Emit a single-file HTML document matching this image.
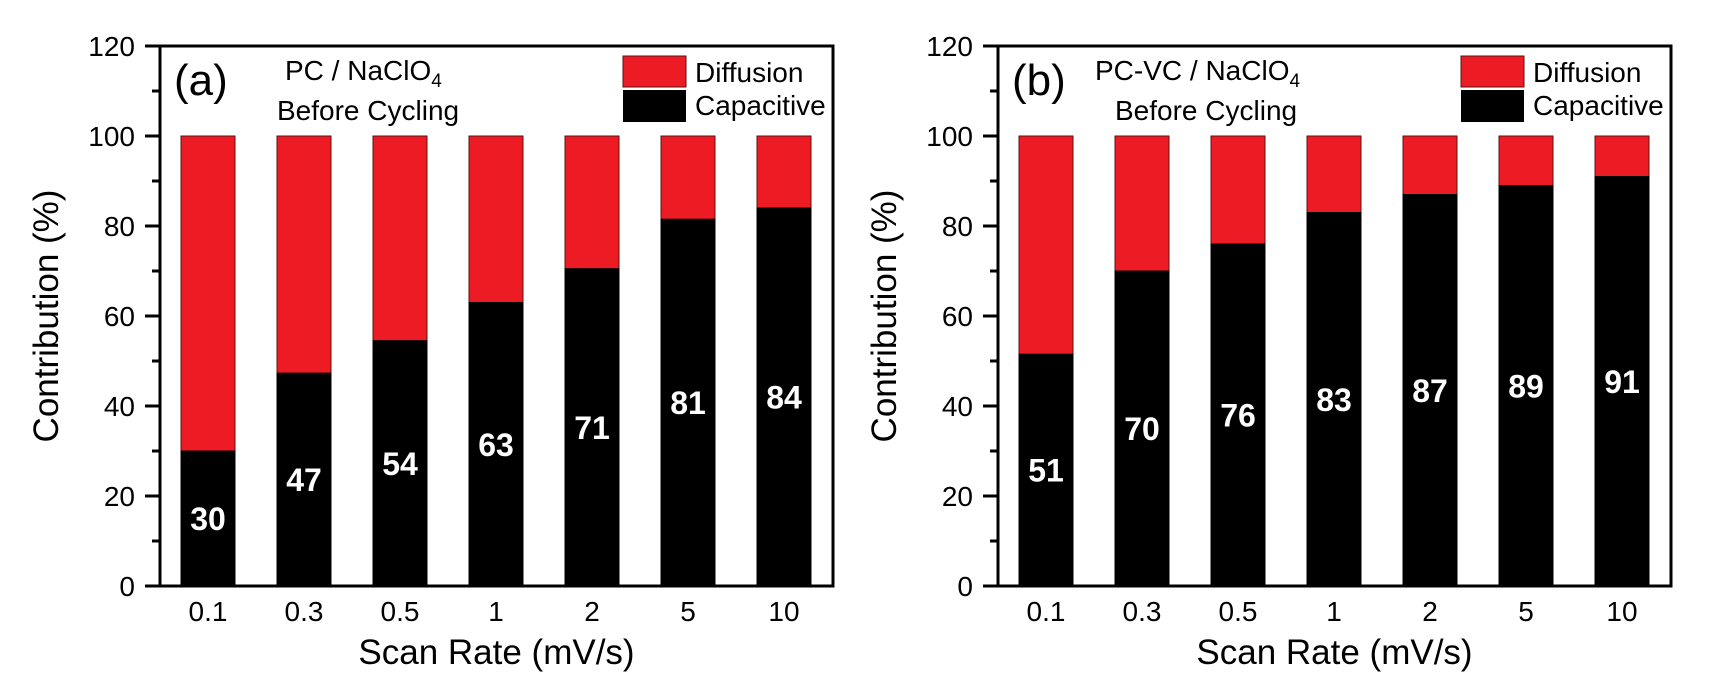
<!DOCTYPE html>
<html><head><meta charset="utf-8">
<style>
html,body{margin:0;padding:0;background:#fff;}
svg{display:block;font-family:"Liberation Sans",Arial,sans-serif;}
</style></head>
<body>
<svg id="fig" width="1713" height="689" viewBox="0 0 1713 689" xmlns="http://www.w3.org/2000/svg"></svg>
<script>
const categories = ["0.1","0.3","0.5","1","2","5","10"];
const capA = [30, 47.3, 54.5, 63, 70.5, 81.5, 84];
const labelsA = ["30","47","54","63","71","81","84"];
const capB = [51.5, 70, 76, 83, 87, 89, 91];
const labelsB = ["51","70","76","83","87","89","91"];
const yTicks = [0,20,40,60,80,100,120];
const yMinor = [10,30,50,70,90,110];

const NS = "http://www.w3.org/2000/svg";
const svg = document.getElementById("fig");
function mk(tag, attrs, parent, text){
  const e = document.createElementNS(NS, tag);
  for (const k in attrs) e.setAttribute(k, attrs[k]);
  if (text !== undefined) e.textContent = text;
  (parent||svg).appendChild(e);
  return e;
}

function drawPanel(offX, cap, labels, tag, line1, line1Shift, name){
  const x0 = 160 + offX, x1 = 833 + offX, yTop = 46, yBot = 586;
  const g = mk("g", {});
  
  
  const yS = v => yBot - (v/120)*(yBot-yTop);
  const xS = i => 208 + offX + i*96;
  const bw = 54;
  cap.forEach((v,i)=>{
    const r = mk("rect", {x:xS(i)-bw/2, y:yS(100), width:bw, height:yS(v)-yS(100), fill:"#ed1c24", stroke:"#5a1010", "stroke-width":1}, g);
    
    
    const b = mk("rect", {x:xS(i)-bw/2, y:yS(v), width:bw, height:yBot-yS(v), fill:"#000", stroke:"#000", "stroke-width":1}, g);
    
    
    const t = mk("text", {x:xS(i), y:(yS(v)+yBot)/2+11.5, "text-anchor":"middle", "font-size":32, "font-weight":"bold", fill:"#fff"}, g, labels[i]);
    
    
    const xl = mk("text", {x:xS(i), y:621, "text-anchor":"middle", "font-size":28, fill:"#000"}, g, categories[i]);
    
    
  });
  const f = mk("rect", {x:x0, y:yTop, width:x1-x0, height:yBot-yTop, fill:"none", stroke:"#000", "stroke-width":3}, g);
  
  
  yTicks.forEach(v=>{
    mk("line", {x1:x0-15, x2:x0, y1:yS(v), y2:yS(v), stroke:"#000", "stroke-width":3}, g);
    const t = mk("text", {x:x0-25, y:yS(v)+10, "text-anchor":"end", "font-size":28, fill:"#000"}, g, String(v));
    
    
  });
  yMinor.forEach(v=>{
    mk("line", {x1:x0-8, x2:x0, y1:yS(v), y2:yS(v), stroke:"#000", "stroke-width":3}, g);
  });
  mk("line", {x1:x0-15, x2:x0, y1:yBot, y2:yBot, stroke:"#000", "stroke-width":3}, g);
  const xt = mk("text", {x:(x0+x1)/2, y:664, "text-anchor":"middle", "font-size":35, fill:"#000"}, g, "Scan Rate (mV/s)");
  
  
  const yt = mk("text", {x:0, y:0, "text-anchor":"middle", "font-size":35, fill:"#000", transform:"translate("+(58+offX)+","+((yTop+yBot)/2)+") rotate(-90)"}, g, "Contribution (%)");
  
  
  const pt = mk("text", {x:174+offX, y:95, "font-size":44, fill:"#000"}, g, tag);
  
  
  const l1 = mk("text", {x:285+offX+line1Shift, y:80, "font-size":28, fill:"#000"}, g);
  
  
  l1.appendChild(document.createTextNode(line1));
  mk("tspan", {"font-size":19, dy:7}, l1, "4");
  const l2 = mk("text", {x:277+offX, y:120, "font-size":28, fill:"#000"}, g, "Before Cycling");
  
  
  const lg = mk("g", {}, g);
  
  
  mk("rect", {x:623+offX, y:56, width:63, height:31, fill:"#ed1c24", stroke:"#5a1010", "stroke-width":1}, lg);
  mk("rect", {x:623+offX, y:90, width:63, height:32, fill:"#000"}, lg);
  const d = mk("text", {x:695+offX, y:82, "font-size":28, fill:"#000"}, lg, "Diffusion");
  
  
  const c = mk("text", {x:695+offX, y:115, "font-size":28, fill:"#000"}, lg, "Capacitive");
  
  
}
drawPanel(0, capA, labelsA, "(a)", "PC / NaClO", 0, "panel-a");
drawPanel(838, capB, labelsB, "(b)", "PC-VC / NaClO", -28, "panel-b");
</script>
</body></html>
